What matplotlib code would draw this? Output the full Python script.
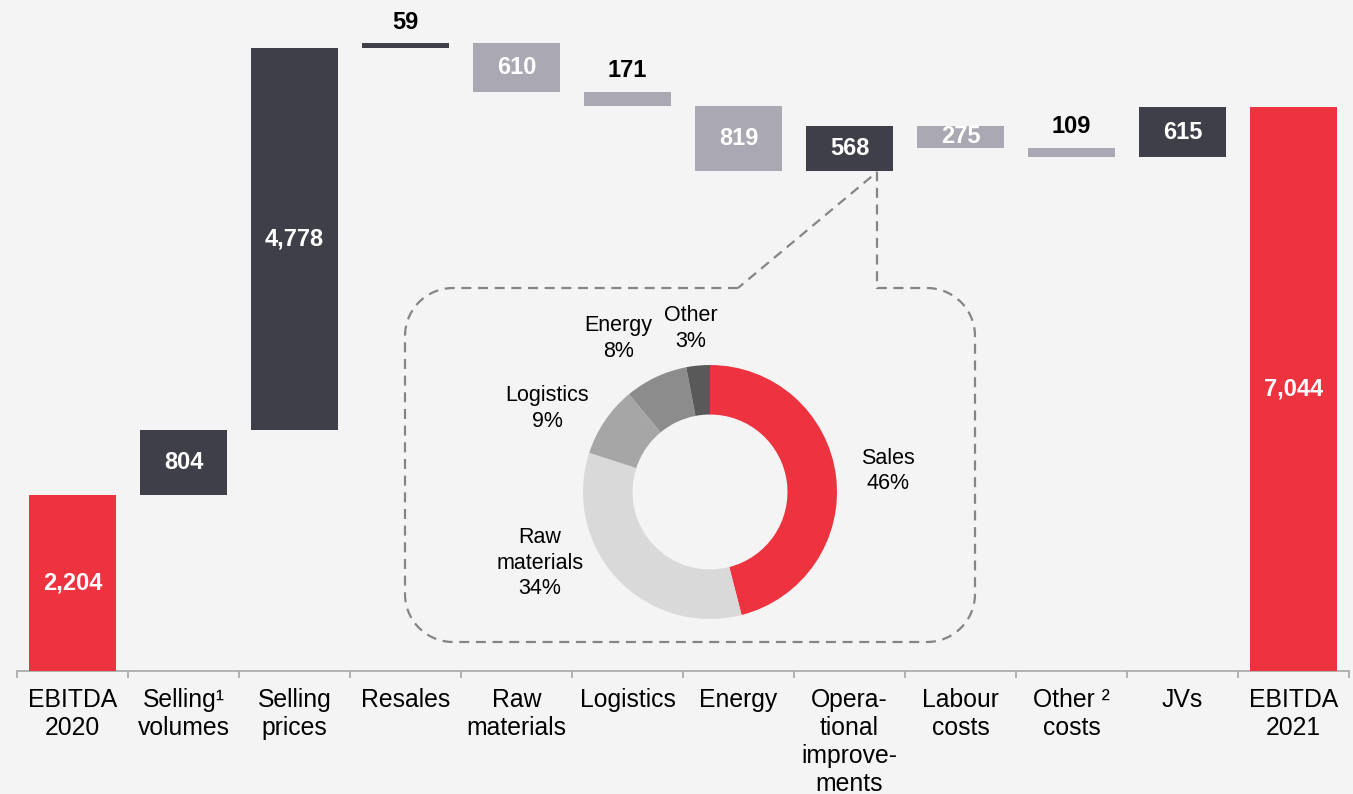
import numpy as np
import matplotlib
matplotlib.use('Agg')
import matplotlib.pyplot as plt
from matplotlib.path import Path
from matplotlib.patches import PathPatch

# data ------------------------------------------------------------------
categories = ['EBITDA\n2020', 'Selling\u00b9\nvolumes', 'Selling\nprices', 'Resales',
              'Raw\nmaterials', 'Logistics', 'Energy', 'Opera-\ntional\nimprove-\nments',
              'Labour\ncosts', 'Other \u00b2\ncosts', 'JVs', 'EBITDA\n2021']
changes = [2204, 804, 4778, 59, -610, -171, -819, 568, -275, -109, 615, 7044]
is_total = [True, False, False, False, False, False, False, False, False, False, False, True]

donut_labels = ['Sales', 'Raw\nmaterials', 'Logistics', 'Energy', 'Other']
donut_shares = [46, 34, 9, 8, 3]

# style -----------------------------------------------------------------
BG = '#F4F4F4'
RED = '#EE3340'
DARK = '#3F3F49'
LIGHT = '#A9A8B3'
donut_colors = [RED, '#D9D9D9', '#A6A6A6', '#8C8C8C', '#595959']
plt.rcParams['font.family'] = ['Liberation Sans', 'DejaVu Sans']

W, H = 1353, 794
fig = plt.figure(figsize=(W / 100, H / 100), dpi=100, facecolor=BG)

# main waterfall axes, positioned in pixels
base_px = 671
px_per_unit = 0.08
ax = fig.add_axes([17 / W, (H - base_px) / H, 1332 / W, base_px / H])
ax.set_facecolor(BG)
ax.set_xlim(-0.5, len(categories) - 0.5)
ax.set_ylim(0, base_px / px_per_unit)

# waterfall geometry
bottoms, heights, colors = [], [], []
running = 0
for val, tot in zip(changes, is_total):
    if tot:
        bottoms.append(0)
        heights.append(val)
        colors.append(RED)
        running = val
    else:
        if val >= 0:
            bottoms.append(running)
            colors.append(DARK)
        else:
            bottoms.append(running + val)
            colors.append(LIGHT)
        heights.append(abs(val))
        running += val

x = np.arange(len(categories))
ax.bar(x, heights, bottom=bottoms, width=0.775, color=colors, zorder=3)

for xi, b, h, val in zip(x, bottoms, heights, changes):
    txt = f'{abs(val):,}'
    if h >= 250:
        ax.text(xi, b + h / 2, txt, ha='center', va='center', color='white',
                fontsize=17, fontweight='bold', zorder=4)
    else:
        ax.annotate(txt, (xi, b + h), xytext=(0, 7), textcoords='offset points',
                    ha='center', va='bottom', color='black', fontsize=17,
                    fontweight='bold', zorder=4)

# axis
for s in ['top', 'right', 'left']:
    ax.spines[s].set_visible(False)
ax.spines['bottom'].set_color('#A6A6A6')
ax.spines['bottom'].set_linewidth(1.2)
ax.set_yticks([])
ax.set_xticks(x)
ax.set_xticklabels(categories, fontsize=17.8, linespacing=1.22, va='top')
ax.tick_params(axis='x', which='major', length=0, pad=12)
ax.set_xticks(np.arange(-0.5, len(categories)), minor=True)
ax.tick_params(axis='x', which='minor', length=5, width=1.2, color='#A6A6A6', direction='out')

# dashed callout (pixel coordinates overlay)
ov = fig.add_axes([0, 0, 1, 1], zorder=2)
ov.set_xlim(0, W)
ov.set_ylim(H, 0)
ov.axis('off')
ov.patch.set_alpha(0)

L, R, T, B, r = 405, 975, 288, 642, 48
tip_x, tip_y = 877, 172
notch_left = 738


def arc(cx, cy, a0, a1, n=20):
    t = np.radians(np.linspace(a0, a1, n))
    return list(zip(cx + r * np.cos(t), cy + r * np.sin(t)))


pts = [(notch_left, T), (L + r, T)]
pts += arc(L + r, T + r, 270, 180)
pts += [(L, B - r)]
pts += arc(L + r, B - r, 180, 90)
pts += [(R - r, B)]
pts += arc(R - r, B - r, 90, 0)
pts += [(R, T + r)]
pts += arc(R - r, T + r, 0, -90)
pts += [(tip_x, T), (tip_x, tip_y), (notch_left, T)]
ov.add_patch(PathPatch(Path(pts), facecolor='none', edgecolor='#858585',
                       linewidth=1.6, linestyle=(0, (4.5, 3))))

# donut
cx, cy, rad = 710, 492, 127
dax = fig.add_axes([(cx - rad) / W, (H - cy - rad) / H, 2 * rad / W, 2 * rad / H], zorder=3)
dax.pie(donut_shares, colors=donut_colors, startangle=90, counterclock=False,
        radius=1, wedgeprops=dict(width=0.39, edgecolor='none'))
dax.set_xlim(-1, 1)
dax.set_ylim(-1, 1)
dax.set_aspect('equal')
dax.axis('off')

label_pos = [(1.40, 0.165), (-1.34, -0.56), (-1.28, 0.66), (-0.72, 1.21), (-0.15, 1.29)]
for lab, share, (lx, ly) in zip(donut_labels, donut_shares, label_pos):
    dax.text(lx, ly, f'{lab}\n{share}%', ha='center', va='center', fontsize=15.5,
             linespacing=1.3, clip_on=False)

fig.savefig('out.png', dpi=100, facecolor=BG)
